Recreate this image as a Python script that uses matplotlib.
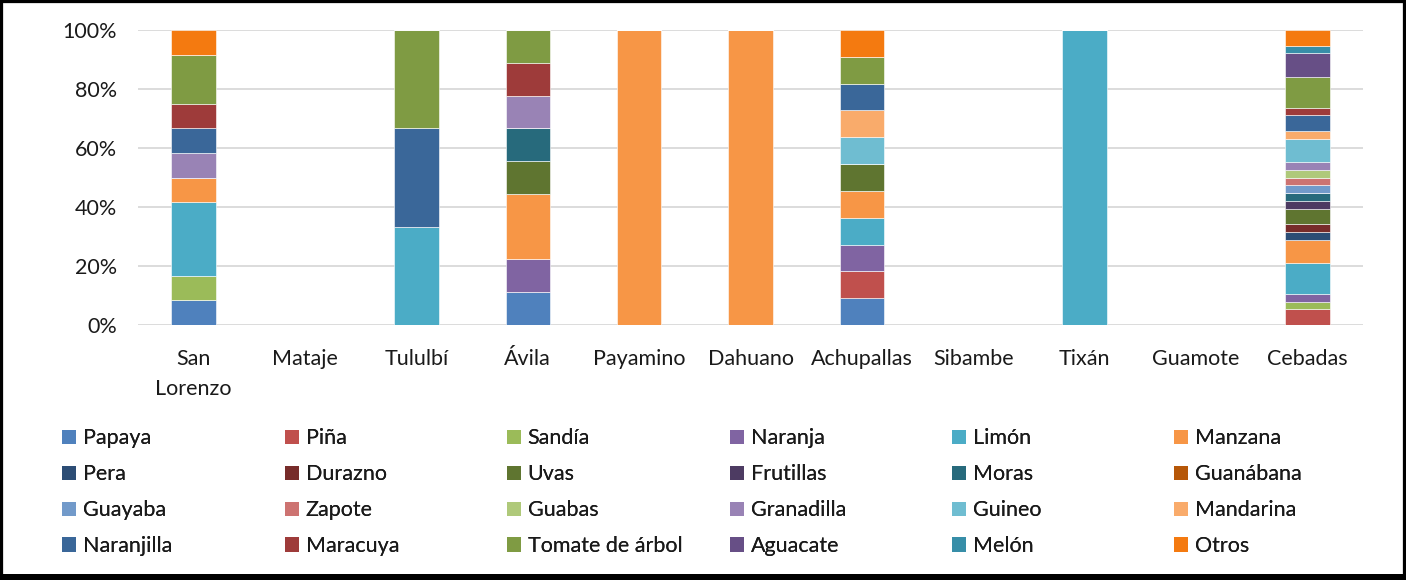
import matplotlib
matplotlib.use("Agg")
import matplotlib.pyplot as plt
from matplotlib.patches import Rectangle, Patch
import numpy as np

plt.rcParams['font.family'] = ['Lato', 'DejaVu Sans']

categories = ["San\nLorenzo", "Mataje", "Tululbí", "Ávila", "Payamino", "Dahuano",
              "Achupallas", "Sibambe", "Tixán", "Guamote", "Cebadas"]

series_names = ["Papaya", "Piña", "Sandía", "Naranja", "Limón", "Manzana",
                "Pera", "Durazno", "Uvas", "Frutillas", "Moras", "Guanábana",
                "Guayaba", "Zapote", "Guabas", "Granadilla", "Guineo", "Mandarina",
                "Naranjilla", "Maracuya", "Tomate de árbol", "Aguacate", "Melón", "Otros"]

papaya      = [8.33, 0, 0, 11.11, 0, 0, 9.09, 0, 0, 0, 0]
pina        = [0, 0, 0, 0, 0, 0, 9.09, 0, 0, 0, 5.26]
sandia      = [8.33, 0, 0, 0, 0, 0, 0, 0, 0, 0, 2.63]
naranja     = [0, 0, 0, 11.11, 0, 0, 9.09, 0, 0, 0, 2.63]
limon       = [25.0, 0, 33.33, 0, 0, 0, 9.09, 0, 100, 0, 10.53]
manzana     = [8.33, 0, 0, 22.22, 100, 100, 9.09, 0, 0, 0, 7.89]
pera        = [0, 0, 0, 0, 0, 0, 0, 0, 0, 0, 2.63]
durazno     = [0, 0, 0, 0, 0, 0, 0, 0, 0, 0, 2.63]
uvas        = [0, 0, 0, 11.11, 0, 0, 9.09, 0, 0, 0, 5.26]
frutillas   = [0, 0, 0, 0, 0, 0, 0, 0, 0, 0, 2.63]
moras       = [0, 0, 0, 11.11, 0, 0, 0, 0, 0, 0, 2.63]
guanabana   = [0, 0, 0, 0, 0, 0, 0, 0, 0, 0, 0]
guayaba     = [0, 0, 0, 0, 0, 0, 0, 0, 0, 0, 2.63]
zapote      = [0, 0, 0, 0, 0, 0, 0, 0, 0, 0, 2.63]
guabas      = [0, 0, 0, 0, 0, 0, 0, 0, 0, 0, 2.63]
granadilla  = [8.33, 0, 0, 11.11, 0, 0, 0, 0, 0, 0, 2.63]
guineo      = [0, 0, 0, 0, 0, 0, 9.09, 0, 0, 0, 7.89]
mandarina   = [0, 0, 0, 0, 0, 0, 9.09, 0, 0, 0, 2.63]
naranjilla  = [8.33, 0, 33.33, 0, 0, 0, 9.09, 0, 0, 0, 5.26]
maracuya    = [8.33, 0, 0, 11.11, 0, 0, 0, 0, 0, 0, 2.63]
tomate      = [16.67, 0, 33.34, 11.12, 0, 0, 9.09, 0, 0, 0, 10.53]
aguacate    = [0, 0, 0, 0, 0, 0, 0, 0, 0, 0, 7.89]
melon       = [0, 0, 0, 0, 0, 0, 0, 0, 0, 0, 2.63]
otros       = [8.34, 0, 0, 0, 0, 0, 9.10, 0, 0, 0, 5.30]

series_values = [papaya, pina, sandia, naranja, limon, manzana, pera, durazno, uvas,
                 frutillas, moras, guanabana, guayaba, zapote, guabas, granadilla,
                 guineo, mandarina, naranjilla, maracuya, tomate, aguacate, melon, otros]

colors = ["#4F81BD", "#C0504D", "#9BBB59", "#8064A2", "#4BACC6", "#F79646",
          "#2C4D75", "#772C2A", "#5F7530", "#4D3B62", "#276A7C", "#B65708",
          "#729ACA", "#CD7371", "#AFC97A", "#9983B5", "#6FBDD1", "#F9AB6B",
          "#3A6799", "#9E3B3A", "#7F9B43", "#674F86", "#378EA8", "#F47A10"]

yticks = [0, 20, 40, 60, 80, 100]
ytick_labels = ["0%", "20%", "40%", "60%", "80%", "100%"]

FS = 15.5
W, H = 1406, 580
fig = plt.figure(figsize=(W / 100, H / 100), dpi=100)
ax = fig.add_axes([138 / W, (H - 325) / H, (1363 - 138) / W, (325 - 30) / H])

x = np.arange(len(categories))
bottom = np.zeros(len(categories))
handles = []
for name, vals, col in zip(series_names, series_values, colors):
    v = np.array(vals, dtype=float)
    ax.bar(x, v, bottom=bottom, width=0.4, color=col, edgecolor="white",
           linewidth=0.4, zorder=3)
    bottom += v
    handles.append(Patch(facecolor=col, edgecolor="none"))

ax.set_xlim(-0.5, len(categories) - 0.5)
ax.set_ylim(0, 100)
ax.set_yticks(yticks)
ax.set_yticklabels(ytick_labels)
ax.set_xticks(x)
ax.set_xticklabels(categories, linespacing=1.62)
ax.tick_params(axis="both", length=0, labelsize=FS, colors="#1a1a1a")
ax.tick_params(axis="y", pad=15)
ax.tick_params(axis="x", pad=17)
ax.grid(axis="y", color="#D9D9D9", linewidth=1.3, zorder=0)
for s in ax.spines.values():
    s.set_visible(False)

# legend: 6 uniform columns, 4 rows
col_x = [62, 285, 507, 730, 952, 1174]
for c in range(6):
    idx = list(range(c, 24, 6))
    leg = fig.legend([handles[i] for i in idx], [series_names[i] for i in idx],
                     loc="upper left", bbox_to_anchor=(col_x[c] / W, 1 - 428.5 / H),
                     frameon=False, fontsize=FS, handlelength=0.66, handleheight=0.66,
                     handletextpad=0.3, labelspacing=0.74, borderaxespad=0,
                     borderpad=0, labelcolor="#1a1a1a")
    fig.add_artist(leg)

# outer black frame
fig.patches.append(Rectangle((0, 0), 1, 1, transform=fig.transFigure, fill=False,
                             edgecolor="black", linewidth=4.5, zorder=10))
fig.patches.append(Rectangle((0, 0), 1, 6 / H, transform=fig.transFigure,
                             facecolor="black", edgecolor="none", zorder=10))

fig.savefig("out.png", dpi=100)
